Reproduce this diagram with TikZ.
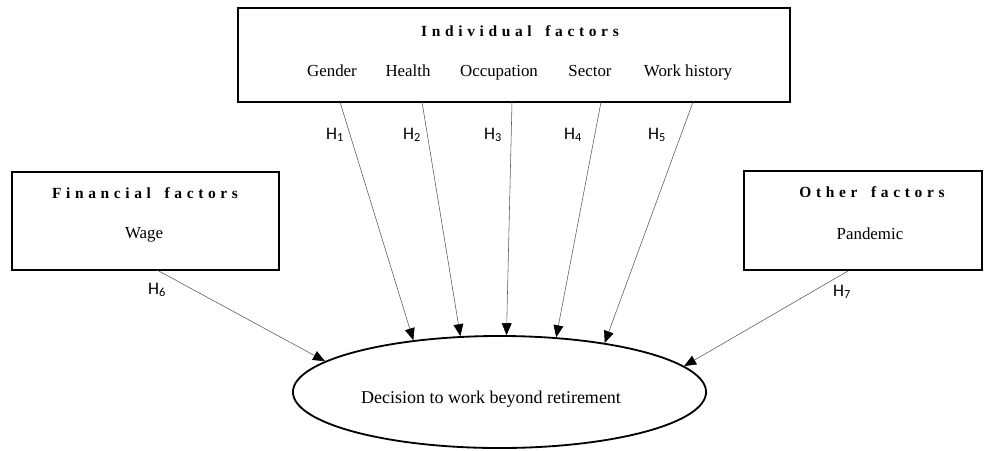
\documentclass[tikz,border=0pt]{standalone}
\usepackage{fontspec}
\setmainfont{Liberation Serif}
\newfontfamily\spacedfont[LetterSpace=30,WordSpace=1.6]{Liberation Serif}
\newfontfamily\hypfont{Carlito}
\usepackage{tikz}
\usetikzlibrary{shapes.geometric,arrows.meta}

\begin{document}
\begin{tikzpicture}[
  x=0.025cm, y=-0.025cm,
  factorbox/.style={draw, line width=1.3pt, inner sep=0pt},
  title/.style={anchor=base, font=\spacedfont\fontsize{11}{13}\selectfont\bfseries},
  item/.style={anchor=base, font=\fontsize{12}{14}\selectfont},
  hyp/.style={font=\hypfont\fontsize{12.5}{14}\selectfont},
  arr/.style={-{Triangle[length=8.5pt,width=7pt,color=black]}, draw=black!65, thin}
]
  \useasboundingbox (0,0) rectangle (984,450);
  % boxes
  \node[factorbox, minimum width=13.8cm,  minimum height=2.35cm]  (ind)   at (514,55)    {};
  \node[factorbox, minimum width=6.675cm, minimum height=2.45cm]  (fin)   at (145.5,221) {};
  \node[factorbox, minimum width=5.95cm,  minimum height=2.475cm] (other) at (863,220.5) {};
  \node[draw, ellipse, line width=1.3pt, inner sep=0pt,
        minimum width=10.325cm, minimum height=2.8cm]            (dec)   at (499.5,392) {};
  % texts
  \node[title] (indtitle)   at (520,36)  {Individual factors};
  \node[item]  (gender)     at (332,76)  {Gender};
  \node[item]  (health)     at (408,76)  {Health};
  \node[item]  (occupation) at (499,76)  {Occupation};
  \node[item]  (sector)     at (590,76)  {Sector};
  \node[item]  (history)    at (688,76)  {Work history};
  \node[title] (fintitle)   at (145,198) {Financial factors};
  \node[item]  (wage)       at (144,238) {Wage};
  \node[title] (othtitle)   at (872,197) {Other factors};
  \node[item]  (pandemic)   at (870,239) {Pandemic};
  \node[item, font=\fontsize{12.8}{15}\selectfont] (dectext) at (491,403) {Decision to work beyond retirement};
  % hypotheses
  \foreach \i/\sx/\ang/\lx in {1/340/149.5/335, 2/422/125.7/412, 3/512/83.4/493, 4/601/44.7/573, 5/693/25.4/657} {
    \coordinate (s\i) at (\sx,102);
    \draw[arr] (s\i) -- (dec.\ang);
    \node[hyp] (h\i) at (\lx,135) {H\textsubscript{\i}};
  }
  \coordinate (s6) at (157,270);
  \coordinate (s7) at (848,271);
  \draw[arr] (s6) -- (dec.170);
  \draw[arr] (s7) -- (dec.8);
  \node[hyp] (h6) at (157,290) {H\textsubscript{6}};
  \node[hyp] (h7) at (842,292) {H\textsubscript{7}};
\end{tikzpicture}
\end{document}
